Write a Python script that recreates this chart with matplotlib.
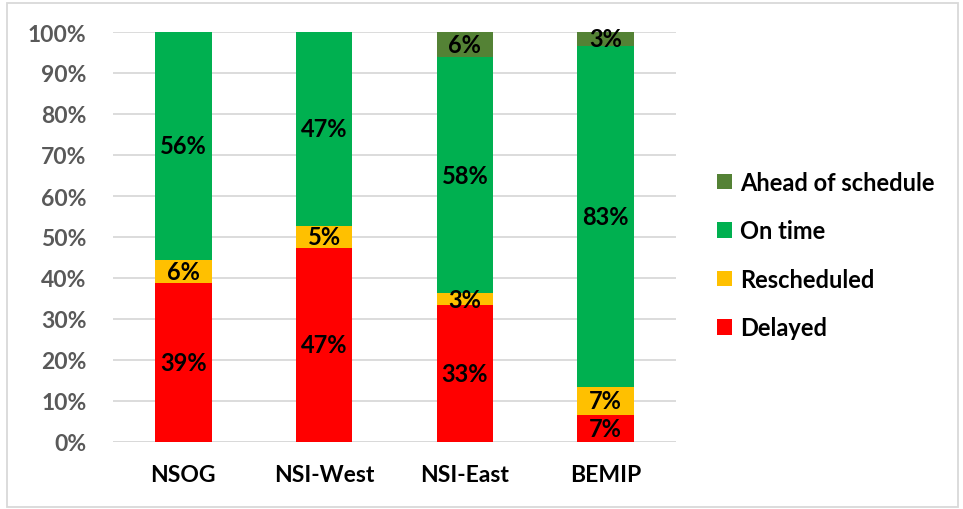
import matplotlib.pyplot as plt
from matplotlib.patches import Rectangle

# ---- Data (percent of projects) ----
corridors = ["NSOG", "NSI-West", "NSI-East", "BEMIP"]
delayed = [38.9, 47.4, 33.3, 6.7]
rescheduled = [5.6, 5.3, 3.0, 6.7]
on_time = [55.6, 47.4, 57.6, 83.3]
ahead = [0.0, 0.0, 6.1, 3.3]

series = [
    ("Delayed", delayed, "#FF0000"),
    ("Rescheduled", rescheduled, "#FFC000"),
    ("On time", on_time, "#00B050"),
    ("Ahead of schedule", ahead, "#548235"),
]

plt.rcParams["font.family"] = ["Lato", "DejaVu Sans"]
plt.rcParams["font.weight"] = "bold"

fig = plt.figure(figsize=(9.63, 5.10), dpi=100)
ax = fig.add_axes([113 / 963, 1 - 443 / 510, 563 / 963, 410 / 510])

x = range(len(corridors))
bottom = [0.0] * len(corridors)
handles = []
for name, vals, color in series:
    bars = ax.bar(x, vals, bottom=bottom, width=0.4, color=color, label=name, zorder=2)
    handles.append(bars)
    for i, v in enumerate(vals):
        if v > 0:
            ax.text(i, bottom[i] + v / 2, f"{round(v)}%", ha="center", va="center",
                    fontsize=17, fontweight="bold", color="black", zorder=3)
    bottom = [b + v for b, v in zip(bottom, vals)]

ax.set_xlim(-0.5, 3.5)
ax.set_ylim(0, 100)
ax.set_yticks(range(0, 101, 10))
ax.set_yticklabels([f"{t}%" for t in range(0, 101, 10)])
ax.set_xticks(list(x))
ax.set_xticklabels(corridors)
ax.tick_params(axis="y", length=0, pad=19, labelsize=16.5, labelcolor="#595959")
ax.tick_params(axis="x", length=0, pad=16, labelsize=16.5, labelcolor="black")
for lbl in ax.get_yticklabels() + ax.get_xticklabels():
    lbl.set_fontweight("bold")

ax.grid(axis="y", color="#D9D9D9", linewidth=1.3, zorder=0)
ax.set_axisbelow(True)
for s in ax.spines.values():
    s.set_visible(False)
ax.axhline(0, color="#D9D9D9", linewidth=1.3, zorder=1)

leg = fig.legend(handles[::-1], [s[0] for s in series][::-1], loc="center left",
                 bbox_to_anchor=(717 / 963, 1 - 256 / 510), frameon=False,
                 borderaxespad=0, borderpad=0,
                 fontsize=17, handlelength=0.64, handleheight=0.64,
                 handletextpad=0.34, labelspacing=1.08)
for t in leg.get_texts():
    t.set_fontweight("bold")

# light frame around the chart
fig.patches.append(Rectangle((7 / 963, 2 / 510), 951 / 963, 504 / 510, transform=fig.transFigure,
                             fill=False, edgecolor="#D9D9D9", linewidth=1.3))

fig.savefig("out.png", dpi=100)
